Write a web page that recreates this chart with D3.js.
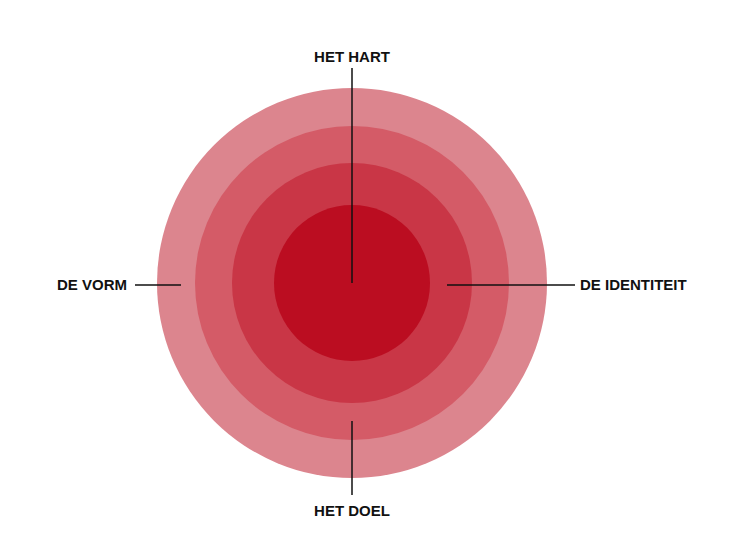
<!DOCTYPE html>
<html><head><meta charset="utf-8">
<script src="https://cdn.jsdelivr.net/npm/d3@7"></script>
<style>body{margin:0;background:#fff}</style></head>
<body><svg width="756" height="555"></svg>
<script>
const rings = [4, 3, 2, 1];
const ringColors = ["#dc858e", "#d45b67", "#c93646", "#bb0d21"];
const labels = ["HET HART", "DE IDENTITEIT", "HET DOEL", "DE VORM"];
const svg = d3.select("svg");
const cx = 352, cy = 283;
const r = d3.scaleLinear().domain([0, 1, 2, 3, 4]).range([0, 78, 120, 157, 195]);
const color = d3.scaleOrdinal().domain(rings).range(ringColors);
svg.selectAll("circle").data(rings).join("circle")
  .attr("cx", cx).attr("cy", cy).attr("r", d => r(d)).attr("fill", d => color(d));
const lines = [
  {x1: cx, y1: 68, x2: cx, y2: cy},
  {x1: 447, y1: 285, x2: 575, y2: 285},
  {x1: cx, y1: 421, x2: cx, y2: 495},
  {x1: 135, y1: 285, x2: 181, y2: 285}
];
svg.selectAll("line").data(lines).join("line")
  .attr("x1", d => d.x1).attr("y1", d => d.y1).attr("x2", d => d.x2).attr("y2", d => d.y2)
  .attr("stroke", "#111").attr("stroke-width", 1.5);
const pos = [
  {x: cx, y: 62, a: "middle"},
  {x: 580, y: 290, a: "start"},
  {x: cx, y: 516, a: "middle"},
  {x: 127, y: 290, a: "end"}
];
svg.selectAll("text").data(labels).join("text")
  .attr("x", (d, i) => pos[i].x).attr("y", (d, i) => pos[i].y)
  .attr("text-anchor", (d, i) => pos[i].a)
  .attr("font-family", "Liberation Sans, Arial, sans-serif").attr("font-weight", "bold")
  .attr("font-size", 15).attr("fill", "#111").text(d => d);
</script></body></html>
